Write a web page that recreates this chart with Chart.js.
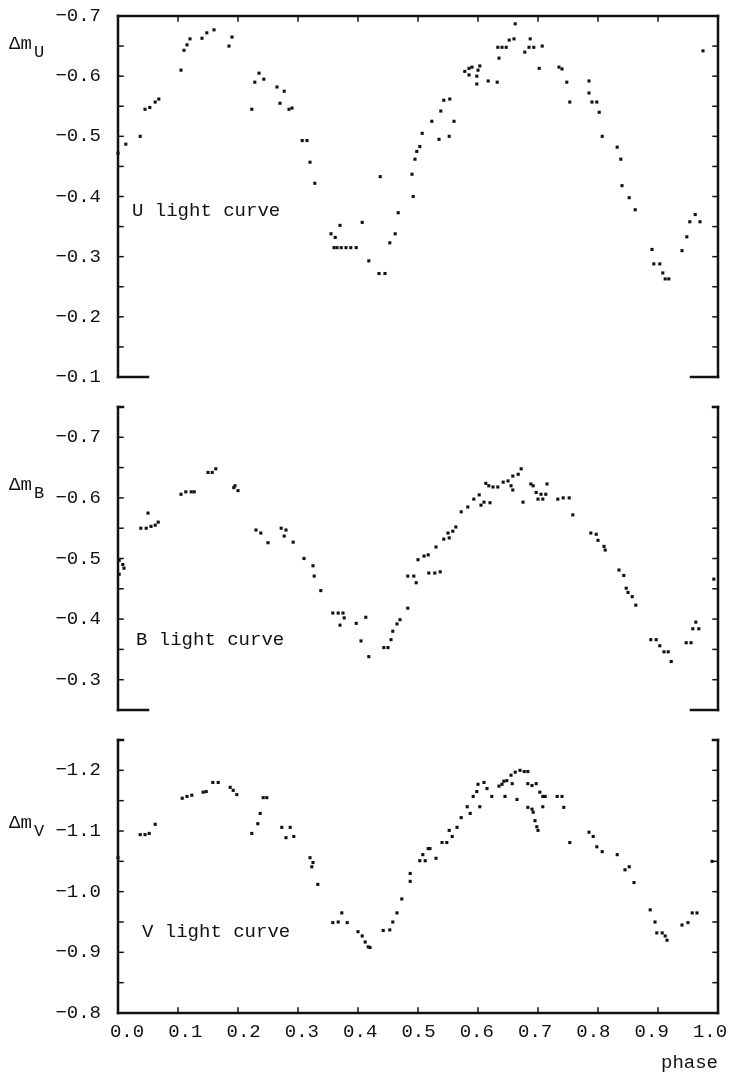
<!DOCTYPE html>
<html>
<head>
<meta charset="utf-8">
<script src="https://cdn.jsdelivr.net/npm/chart.js@4.4.0/dist/chart.umd.min.js"></script>
<style>
  html, body { margin: 0; padding: 0; background: #fff; }
  #page { position: relative; width: 730px; height: 1072px; overflow: hidden; }
  canvas { position: absolute; left: 0; }
</style>
</head>
<body>
<div id="page">
  <canvas id="chartU" width="730" height="390" style="top:0px"></canvas>
  <canvas id="chartB" width="730" height="330" style="top:390px"></canvas>
  <canvas id="chartV" width="730" height="352" style="top:720px"></canvas>
</div>
<script>
// --- data (phase, delta magnitude) ---
const uPhase = [0.000, 0.013, 0.037, 0.045, 0.053, 0.062, 0.068, 0.105, 0.110, 0.115, 0.120, 0.140, 0.148, 0.160,
  0.185, 0.190, 0.223, 0.228, 0.235, 0.243, 0.265, 0.277, 0.270, 0.285, 0.290, 0.307, 0.315, 0.320, 0.328,
  0.355, 0.362, 0.370, 0.360, 0.365, 0.372, 0.380, 0.388, 0.397, 0.407, 0.418, 0.437, 0.435, 0.445,
  0.453, 0.462, 0.467, 0.490, 0.492, 0.495, 0.498, 0.503, 0.507, 0.523, 0.535, 0.538, 0.543, 0.553,
  0.552, 0.560, 0.578, 0.585, 0.590, 0.603, 0.585, 0.598, 0.600, 0.598, 0.617, 0.632, 0.635, 0.633,
  0.640, 0.647, 0.652, 0.660, 0.662, 0.678, 0.685, 0.693, 0.687, 0.707, 0.702, 0.735, 0.740, 0.748,
  0.753, 0.785, 0.785, 0.790, 0.798, 0.802, 0.807, 0.832, 0.838, 0.840, 0.852, 0.862, 0.890, 0.893,
  0.903, 0.908, 0.912, 0.918, 0.940, 0.948, 0.953, 0.962, 0.970, 0.975];
const uMag = [-0.472, -0.487, -0.500, -0.545, -0.548, -0.557, -0.562, -0.610, -0.643, -0.652, -0.662, -0.663, -0.672, -0.677,
  -0.650, -0.665, -0.545, -0.590, -0.605, -0.595, -0.582, -0.575, -0.555, -0.545, -0.547, -0.493, -0.493, -0.457, -0.422,
  -0.338, -0.332, -0.352, -0.315, -0.315, -0.315, -0.315, -0.315, -0.315, -0.357, -0.293, -0.433, -0.272, -0.272,
  -0.323, -0.338, -0.373, -0.437, -0.400, -0.462, -0.475, -0.483, -0.505, -0.525, -0.495, -0.542, -0.560, -0.562,
  -0.500, -0.525, -0.608, -0.613, -0.615, -0.617, -0.602, -0.600, -0.610, -0.587, -0.592, -0.590, -0.630, -0.648,
  -0.648, -0.648, -0.660, -0.662, -0.687, -0.640, -0.648, -0.648, -0.662, -0.650, -0.613, -0.615, -0.612, -0.590,
  -0.557, -0.592, -0.572, -0.557, -0.557, -0.540, -0.500, -0.482, -0.462, -0.418, -0.398, -0.378, -0.312, -0.288,
  -0.288, -0.273, -0.263, -0.263, -0.310, -0.333, -0.358, -0.370, -0.358, -0.642];

const bPhase = [0.002, 0.008, 0.010, 0.002, 0.038, 0.047, 0.055, 0.062, 0.067, 0.050, 0.105, 0.113, 0.122, 0.127,
  0.150, 0.157, 0.163, 0.193, 0.195, 0.200, 0.230, 0.238, 0.250, 0.272, 0.280, 0.277, 0.292,
  0.310, 0.325, 0.327, 0.338, 0.358, 0.367, 0.375, 0.377, 0.370, 0.397, 0.413, 0.405, 0.418,
  0.443, 0.450, 0.455, 0.458, 0.465, 0.470, 0.483, 0.483, 0.493, 0.497, 0.500, 0.510, 0.517,
  0.518, 0.528, 0.537, 0.530, 0.543, 0.552, 0.550, 0.558, 0.563, 0.572, 0.583, 0.593, 0.602, 0.605,
  0.610, 0.620, 0.613, 0.618, 0.625, 0.633, 0.642, 0.650, 0.658, 0.667, 0.672, 0.655, 0.658, 0.675,
  0.688, 0.692, 0.697, 0.705, 0.713, 0.700, 0.708, 0.715, 0.733, 0.742, 0.752, 0.758,
  0.788, 0.797, 0.800, 0.810, 0.812, 0.835, 0.843, 0.847, 0.850, 0.857, 0.863,
  0.888, 0.897, 0.903, 0.910, 0.917, 0.922, 0.947, 0.955, 0.958, 0.968, 0.963, 0.993];
const bMag = [-0.497, -0.490, -0.484, -0.474, -0.550, -0.550, -0.553, -0.555, -0.560, -0.575, -0.606, -0.610, -0.610, -0.610,
  -0.642, -0.642, -0.648, -0.617, -0.620, -0.612, -0.547, -0.542, -0.526, -0.550, -0.547, -0.537, -0.527,
  -0.500, -0.488, -0.471, -0.447, -0.410, -0.410, -0.410, -0.402, -0.390, -0.393, -0.403, -0.364, -0.338,
  -0.353, -0.353, -0.366, -0.380, -0.392, -0.399, -0.418, -0.471, -0.471, -0.460, -0.498, -0.504, -0.506,
  -0.476, -0.476, -0.478, -0.519, -0.532, -0.534, -0.542, -0.545, -0.552, -0.577, -0.585, -0.598, -0.605, -0.588,
  -0.593, -0.592, -0.624, -0.620, -0.618, -0.618, -0.626, -0.628, -0.636, -0.639, -0.648, -0.620, -0.613, -0.593,
  -0.623, -0.620, -0.609, -0.606, -0.606, -0.598, -0.598, -0.623, -0.598, -0.600, -0.600, -0.572,
  -0.542, -0.540, -0.530, -0.520, -0.514, -0.481, -0.472, -0.451, -0.444, -0.437, -0.423,
  -0.366, -0.366, -0.356, -0.346, -0.346, -0.330, -0.361, -0.361, -0.384, -0.384, -0.395, -0.466];

const vPhase = [0.000, 0.037, 0.045, 0.052, 0.062, 0.107, 0.115, 0.123, 0.142, 0.147, 0.158, 0.167,
  0.187, 0.192, 0.198, 0.242, 0.248, 0.237, 0.233, 0.223, 0.273, 0.287, 0.280, 0.293,
  0.320, 0.325, 0.323, 0.333, 0.358, 0.367, 0.373, 0.382, 0.400, 0.407, 0.412, 0.417, 0.420,
  0.442, 0.453, 0.458, 0.465, 0.473, 0.487, 0.487, 0.503, 0.512, 0.530, 0.508, 0.517, 0.520,
  0.540, 0.548, 0.557, 0.552, 0.565, 0.572, 0.582, 0.587, 0.592, 0.598, 0.600, 0.610, 0.603, 0.615,
  0.623, 0.635, 0.640, 0.643, 0.648, 0.645, 0.657, 0.655, 0.662, 0.670, 0.677, 0.683, 0.665,
  0.683, 0.690, 0.697, 0.683, 0.690, 0.692, 0.695, 0.698, 0.700, 0.703, 0.708, 0.712, 0.708,
  0.732, 0.740, 0.743, 0.753, 0.785, 0.792, 0.798, 0.807, 0.832, 0.845, 0.852, 0.860,
  0.887, 0.895, 0.898, 0.907, 0.912, 0.915, 0.940, 0.950, 0.957, 0.965, 0.990];
const vMag = [-1.056, -1.094, -1.094, -1.096, -1.111, -1.154, -1.157, -1.159, -1.164, -1.165, -1.180, -1.180,
  -1.172, -1.167, -1.160, -1.155, -1.155, -1.129, -1.112, -1.096, -1.106, -1.106, -1.089, -1.091,
  -1.056, -1.048, -1.041, -1.012, -0.949, -0.950, -0.965, -0.949, -0.934, -0.927, -0.917, -0.909, -0.908,
  -0.936, -0.937, -0.950, -0.965, -0.988, -1.017, -1.030, -1.051, -1.051, -1.055, -1.061, -1.071, -1.071,
  -1.081, -1.081, -1.091, -1.101, -1.106, -1.122, -1.140, -1.129, -1.157, -1.165, -1.177, -1.180, -1.140, -1.170,
  -1.157, -1.174, -1.177, -1.182, -1.183, -1.157, -1.178, -1.192, -1.197, -1.200, -1.198, -1.198, -1.152,
  -1.178, -1.175, -1.178, -1.139, -1.136, -1.131, -1.117, -1.107, -1.101, -1.164, -1.157, -1.157, -1.140,
  -1.157, -1.157, -1.139, -1.081, -1.098, -1.091, -1.074, -1.066, -1.061, -1.036, -1.041, -1.015,
  -0.970, -0.950, -0.932, -0.932, -0.927, -0.920, -0.945, -0.949, -0.965, -0.965, -1.050];

// tick labels
const phaseTicks = [0.0, 0.1, 0.2, 0.3, 0.4, 0.5, 0.6, 0.7, 0.8, 0.9, 1.0];
const uTicks = [-0.7, -0.6, -0.5, -0.4, -0.3, -0.2, -0.1];
const bTicks = [-0.7, -0.6, -0.5, -0.4, -0.3];
const vTicks = [-1.2, -1.1, -1.0, -0.9, -0.8];

const FONT = "'Liberation Mono', 'DejaVu Sans Mono', monospace";
const INK = '#111';
Chart.defaults.font.family = FONT;
Chart.defaults.color = INK;

function fmt(v) {
  return (v < 0 ? '\u2212' : '') + Math.abs(v).toFixed(1);
}

function seg(ctx, x1, y1, x2, y2) {
  ctx.beginPath();
  ctx.moveTo(x1, y1);
  ctx.lineTo(x2, y2);
  ctx.stroke();
}

// frame, inward ticks, panel caption and y title
const framePlugin = {
  id: 'frame',
  beforeDraw(chart, args, o) {
    // the printed phase labels sit a little closer together than the ticks
    if (!o.squeeze || !chart.scales.x.options.display) return;
    chart.scales.x.getLabelItems().forEach((it, i) => {
      if (it._moved) return;
      it.options.translation[0] += o.squeeze[0] + o.squeeze[1] * phaseTicks[i];
      it._moved = true;
    });
  },
  afterDraw(chart, args, o) {
    const { ctx, chartArea: a, scales: { x, y } } = chart;
    ctx.save();
    ctx.strokeStyle = INK;
    ctx.lineCap = 'square';
    ctx.lineWidth = 2.5;
    seg(ctx, a.left, a.top, a.left, a.bottom);
    seg(ctx, a.right, a.top, a.right, a.bottom);
    if (o.top === 'full') {
      seg(ctx, a.left, a.top, a.right, a.top);
    } else {
      seg(ctx, a.left, a.top, a.left + 5, a.top);
      seg(ctx, a.right - 5, a.top, a.right, a.top);
    }
    if (o.bottom === 'full') {
      seg(ctx, a.left, a.bottom, a.right, a.bottom);
    } else {
      seg(ctx, a.left, a.bottom, x.getPixelForValue(0.05), a.bottom);
      seg(ctx, x.getPixelForValue(0.955), a.bottom, a.right, a.bottom);
    }
    ctx.lineWidth = 1.5;
    for (let k = 1; k * 0.05 < y.max - y.min - 1e-6; k++) {
      const py = y.getPixelForValue(y.min + k * 0.05);
      seg(ctx, a.left, py, a.left + 5, py);
      seg(ctx, a.right - 5, py, a.right, py);
    }
    phaseTicks.slice(1, -1).forEach(p => {
      const px = x.getPixelForValue(p);
      if (o.top === 'full') seg(ctx, px, a.top, px, a.top + 5);
      if (o.bottom === 'full') seg(ctx, px, a.bottom, px, a.bottom - 5);
    });
    ctx.fillStyle = INK;
    ctx.textBaseline = 'middle';
    ctx.textAlign = 'left';
    ctx.font = '19px ' + FONT;
    ctx.fillText(o.caption, a.left + o.capDx, y.getPixelForValue(o.capAt));
    const ty = a.top + o.titleDy;
    ctx.font = '19px ' + FONT;
    ctx.fillText('\u0394m', 9, ty);
    ctx.font = '17px ' + FONT;
    ctx.fillText(o.sub, 34, ty + 8);
    ctx.restore();
  }
};

function makePanel(id, phase, mag, yMin, yMax, ticks, frame, pad, withX) {
  return new Chart(document.getElementById(id), {
    type: 'scatter',
    data: {
      datasets: [{
        data: phase.map((p, i) => ({ x: p, y: mag[i] })),
        pointStyle: 'rect',
        pointRadius: 2.2,
        pointHoverRadius: 2.2,
        backgroundColor: INK,
        borderWidth: 0,
        clip: false
      }]
    },
    options: {
      responsive: false,
      animation: false,
      devicePixelRatio: 1,
      events: [],
      layout: { padding: { left: 0, right: 12, top: pad[0], bottom: pad[1] } },
      plugins: { legend: { display: false }, tooltip: { enabled: false }, frame },
      scales: {
        x: {
          type: 'linear', min: 0, max: 1, display: withX,
          afterBuildTicks: s => { s.ticks = phaseTicks.map(v => ({ value: v })); },
          afterFit: s => { s.height = pad[2]; s.paddingLeft = 0; s.paddingRight = 0; },
          grid: { display: false, drawTicks: false },
          border: { display: false },
          ticks: { callback: v => v.toFixed(1), font: { size: 19 }, padding: 8, autoSkip: false, maxRotation: 0 },
          title: { display: true, text: 'phase', align: 'end', font: { size: 19, lineHeight: 1 }, padding: 0 }
        },
        y: {
          type: 'linear', reverse: true, min: yMin, max: yMax,
          afterBuildTicks: s => { s.ticks = ticks.map(v => ({ value: v })); },
          afterFit: s => { s.width = 118; s.paddingTop = 0; s.paddingBottom = 0; },
          grid: { display: false, drawTicks: false },
          border: { display: false },
          ticks: { callback: v => fmt(v), font: { size: 19 }, padding: 17, autoSkip: false }
        }
      }
    },
    plugins: [framePlugin]
  });
}

makePanel('chartU', uPhase, uMag, -0.7, -0.1, uTicks,
  { top: 'full', bottom: 'stub', caption: 'U light curve', capDx: 14, capAt: -0.376, titleDy: 28, sub: 'U' },
  [16, 13, 0], false);
makePanel('chartB', bPhase, bMag, -0.75, -0.25, bTicks,
  { top: 'hook', bottom: 'stub', caption: 'B light curve', capDx: 18, capAt: -0.365, titleDy: 78, sub: 'B' },
  [17, 10, 0], false);
makePanel('chartV', vPhase, vMag, -1.25, -0.8, vTicks,
  { top: 'hook', bottom: 'full', caption: 'V light curve', capDx: 24, capAt: -0.934, titleDy: 83, sub: 'V',
    squeeze: [9, -17] },
  [20, 0, 59], true);
</script>
</body>
</html>
